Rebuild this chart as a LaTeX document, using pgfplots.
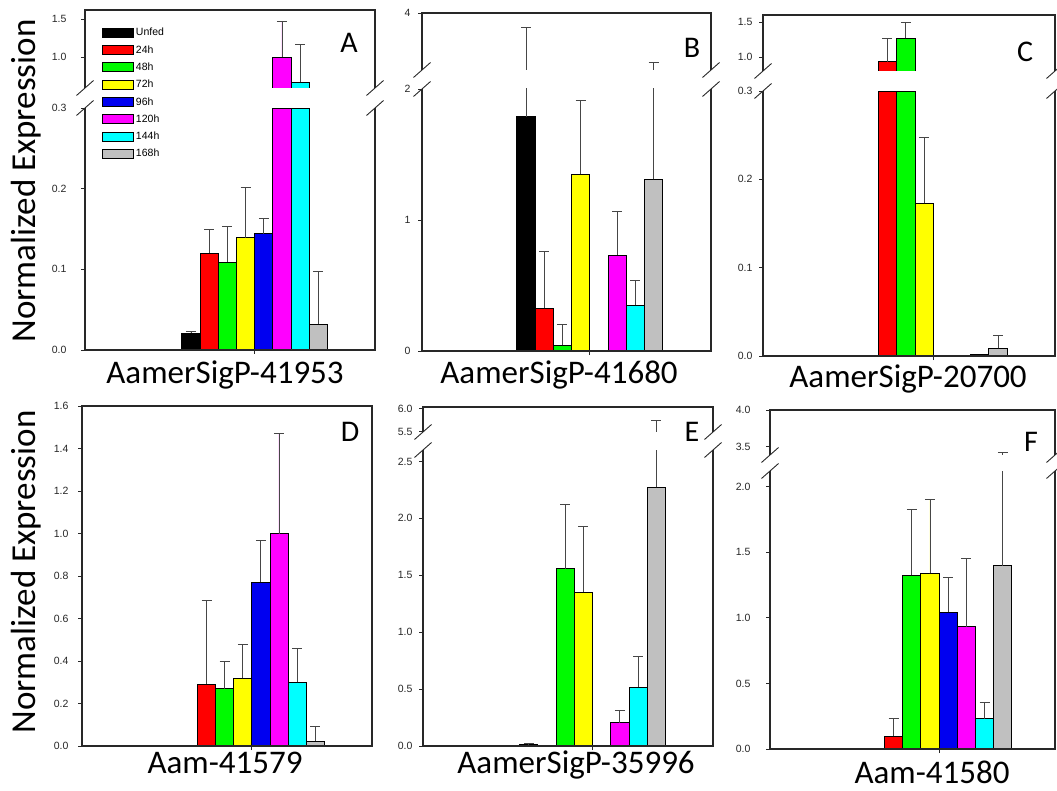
\documentclass[border=0pt]{standalone}
\usepackage{fontspec}
\setmainfont{Carlito}
\newfontfamily\arial{Liberation Sans}
\usepackage{pgfplots}
\pgfplotsset{compat=1.18}
\definecolor{cBlack}{RGB}{0,0,0}
\definecolor{cRed}{RGB}{255,0,0}
\definecolor{cGreen}{RGB}{0,250,0}
\definecolor{cYellow}{RGB}{255,255,0}
\definecolor{cBlue}{RGB}{0,0,240}
\definecolor{cMag}{RGB}{255,0,255}
\definecolor{cCyan}{RGB}{0,255,255}
\definecolor{cGray}{RGB}{192,192,192}
\definecolor{frame}{RGB}{40,40,40}
\definecolor{errc}{RGB}{70,70,70}
\pgfplotsset{
  panel/.style={scale only axis, anchor=south west, axis line style={draw=none}, clip mode=individual,
    tick align=outside, major tick length=4pt, tick style={color=frame, line width=0.9pt},
    ytick pos=left, xtick pos=bottom, xtick={3.5}, xticklabels={},
    yticklabel style={font=\arial\fontsize{10.5}{12}\selectfont, text=black!85, xshift=-#1}},
  upper/.style={xtick=\empty},
  bar/.style={ybar, bar width=1, bar shift=0pt, draw=black, line width=0.8pt, fill=#1},
  ghost/.style={ybar, bar width=1, bar shift=0pt, draw=none, fill=none},
  err/.style={error bars/y dir=plus, error bars/y explicit,
    error bars/error bar style={draw=errc, line width=0.9pt},
    error bars/error mark options={rotate=90, draw=errc, line width=0.9pt, mark size=5pt}},
  lowframe/.style={after end axis/.append code={
    \draw[frame, line width=1.2pt] (rel axis cs:0,1) -- (rel axis cs:0,0) -- (rel axis cs:1,0) -- (rel axis cs:1,1);
    \draw[frame, line width=0.9pt] (rel axis cs:0,1) ++(-8.5pt,-7.5pt) -- ++(17pt,15pt);
    \draw[frame, line width=0.9pt] (rel axis cs:1,1) ++(-8.5pt,-7.5pt) -- ++(17pt,15pt);}},
  upframe/.style={after end axis/.append code={
    \draw[frame, line width=1.2pt] (rel axis cs:0,0) -- (rel axis cs:0,1) -- (rel axis cs:1,1) -- (rel axis cs:1,0);
    \draw[frame, line width=0.9pt] (rel axis cs:0,0) ++(-8.5pt,-7.5pt) -- ++(17pt,15pt);
    \draw[frame, line width=0.9pt] (rel axis cs:1,0) ++(-8.5pt,-7.5pt) -- ++(17pt,15pt);}},
  fullframe/.style={after end axis/.append code={
    \draw[frame, line width=1.2pt] (rel axis cs:0,0) rectangle (rel axis cs:1,1);}},
  shiftup/.style={y coord trafo/.code={\pgfmathparse{##1-#1}}, y coord inv trafo/.code={\pgfmathparse{##1+#1}}},
}
\begin{document}
\begin{tikzpicture}[x=1pt,y=1pt]
\useasboundingbox (0,0) rectangle (1057,-791);

% ---------------- Panel A ----------------
\begin{axis}[panel=11pt, lowframe, at={(85pt,-350pt)}, width=290pt, height=242pt,
  xmin=-5.82, xmax=10.11, ymin=0, ymax=0.3,
  ytick={0,0.1,0.2,0.3}, yticklabels={0.0,0.1,0.2,0.3},
  y filter/.expression={min(y,0.3)},
  legend style={at={(0.0586,1.339)}, anchor=north west, draw=none, fill=none, inner sep=0pt,
    font=\arial\fontsize{10.5}{12}\selectfont, row sep=4.2pt},
  legend cell align=left,
  legend image code/.code={\draw[#1, line width=0.8pt] (0pt,-4.5pt) rectangle (31pt,4.5pt);}]
\addplot[bar=cBlack, err] coordinates {(0,0.021) +- (0,0.002)};
\addplot[bar=cRed, err] coordinates {(1,0.120) +- (0,0.029)};
\addplot[bar=cGreen, err] coordinates {(2,0.109) +- (0,0.044)};
\addplot[bar=cYellow, err] coordinates {(3,0.139) +- (0,0.063)};
\addplot[bar=cBlue, err] coordinates {(4,0.144) +- (0,0.019)};
\addplot[bar=cMag] coordinates {(5,1.0)};
\addplot[bar=cCyan] coordinates {(6,0.67)};
\addplot[bar=cGray, err] coordinates {(7,0.032) +- (0,0.065)};
\legend{Unfed,24h,48h,72h,96h,120h,144h,168h}
\end{axis}
\begin{axis}[panel=11pt, upper, upframe, shiftup=0.592, at={(85pt,-88pt)}, width=290pt, height=78pt,
  xmin=-5.82, xmax=10.11, ymin=0.592, ymax=1.618,
  ytick={1.0,1.5}, yticklabels={1.0,1.5}]
\addplot[bar=cMag, err] coordinates {(5,1.0) +- (0,0.47)};
\addplot[bar=cCyan, err] coordinates {(6,0.67) +- (0,0.50)};
\end{axis}

% ---------------- Panel B ----------------
\begin{axis}[panel=4pt, lowframe, at={(422pt,-351pt)}, width=289pt, height=262pt,
  xmin=-5.70, xmax=10.14, ymin=0, ymax=2,
  ytick={0,1,2}, yticklabels={0,1,2}]
\addplot[bar=cBlack, err] coordinates {(0,1.79) +- (0,1.71)};
\addplot[bar=cRed, err] coordinates {(1,0.326) +- (0,0.432)};
\addplot[bar=cGreen, err] coordinates {(2,0.046) +- (0,0.16)};
\addplot[bar=cYellow, err] coordinates {(3,1.351) +- (0,0.565)};
\addplot[bar=cMag, err] coordinates {(5,0.733) +- (0,0.33)};
\addplot[bar=cCyan, err] coordinates {(6,0.351) +- (0,0.186)};
\addplot[bar=cGray, err] coordinates {(7,1.311) +- (0,0.94)};
\end{axis}
\begin{axis}[panel=4pt, upper, upframe, shiftup=2, at={(422pt,-70pt)}, width=289pt, height=57pt,
  xmin=-5.70, xmax=10.14, ymin=2, ymax=4,
  ytick={4}, yticklabels={4}]
\addplot[ghost, err] coordinates {(0,1.79) +- (0,1.71)};
\addplot[ghost, err] coordinates {(7,1.311) +- (0,0.94)};
\end{axis}

% ---------------- Panel C ----------------
\begin{axis}[panel=3pt, lowframe, at={(763pt,-356pt)}, width=292pt, height=265pt,
  xmin=-5.75, xmax=10.09, ymin=0, ymax=0.3,
  ytick={0,0.1,0.2,0.3}, yticklabels={0.0,0.1,0.2,0.3},
  y filter/.expression={min(y,0.3)}]
\addplot[bar=cRed] coordinates {(1,0.933)};
\addplot[bar=cGreen] coordinates {(2,1.267)};
\addplot[bar=cYellow, err] coordinates {(3,0.173) +- (0,0.074)};
\addplot[bar=cCyan] coordinates {(6,0.0015)};
\addplot[bar=cGray, err] coordinates {(7,0.0087) +- (0,0.014)};
\end{axis}
\begin{axis}[panel=3pt, upper, upframe, shiftup=0.8, at={(763pt,-71pt)}, width=292pt, height=56pt,
  xmin=-5.75, xmax=10.09, ymin=0.8, ymax=1.6,
  ytick={1.0,1.5}, yticklabels={1.0,1.5}]
\addplot[bar=cRed, err] coordinates {(1,0.933) +- (0,0.327)};
\addplot[bar=cGreen, err] coordinates {(2,1.267) +- (0,0.223)};
\end{axis}

% ---------------- Panel D ----------------
\begin{axis}[panel=6pt, fullframe, at={(82pt,-746pt)}, width=290pt, height=340pt,
  xmin=-5.88, xmax=10.14, ymin=0, ymax=1.6,
  ytick={0,0.2,0.4,0.6,0.8,1.0,1.2,1.4,1.6},
  yticklabels={0.0,0.2,0.4,0.6,0.8,1.0,1.2,1.4,1.6}]
\addplot[bar=cRed, err] coordinates {(1,0.291) +- (0,0.394)};
\addplot[bar=cGreen, err] coordinates {(2,0.269) +- (0,0.127)};
\addplot[bar=cYellow, err] coordinates {(3,0.318) +- (0,0.162)};
\addplot[bar=cBlue, err] coordinates {(4,0.772) +- (0,0.194)};
\addplot[bar=cMag, err] coordinates {(5,1.0) +- (0,0.47)};
\addplot[bar=cCyan, err] coordinates {(6,0.30) +- (0,0.159)};
\addplot[bar=cGray, err] coordinates {(7,0.024) +- (0,0.069)};
\end{axis}

% ---------------- Panel E ----------------
\begin{axis}[panel=3pt, lowframe, at={(423pt,-746pt)}, width=290pt, height=296pt,
  xmin=-5.81, xmax=10.12, ymin=0, ymax=2.6,
  ytick={0,0.5,1.0,1.5,2.0,2.5}, yticklabels={0.0,0.5,1.0,1.5,2.0,2.5}]
\addplot[bar=cBlack, err] coordinates {(0,0.014) +- (0,0.006)};
\addplot[bar=cRed] coordinates {(1,0.002)};
\addplot[bar=cGreen, err] coordinates {(2,1.557) +- (0,0.563)};
\addplot[bar=cYellow, err] coordinates {(3,1.352) +- (0,0.577)};
\addplot[bar=cMag, err] coordinates {(5,0.205) +- (0,0.103)};
\addplot[bar=cCyan, err] coordinates {(6,0.519) +- (0,0.266)};
\addplot[bar=cGray, err] coordinates {(7,2.272) +- (0,3.46)};
\end{axis}
\begin{axis}[panel=3pt, upper, upframe, shiftup=5.49, at={(423pt,-432pt)}, width=290pt, height=25pt,
  xmin=-5.81, xmax=10.12, ymin=5.49, ymax=6.03,
  ytick={5.5,6.0}, yticklabels={5.5,6.0}]
\addplot[ghost, err] coordinates {(7,2.272) +- (0,3.46)};
\end{axis}

% ---------------- Panel F ----------------
\begin{axis}[panel=12pt, lowframe, at={(770pt,-749pt)}, width=285pt, height=278pt,
  xmin=-5.79, xmax=9.87, ymin=0, ymax=2.12,
  ytick={0,0.5,1.0,1.5,2.0}, yticklabels={0.0,0.5,1.0,1.5,2.0}]
\addplot[bar=cBlack] coordinates {(0,0.003)};
\addplot[bar=cRed, err] coordinates {(1,0.099) +- (0,0.135)};
\addplot[bar=cGreen, err] coordinates {(2,1.326) +- (0,0.503)};
\addplot[bar=cYellow, err] coordinates {(3,1.339) +- (0,0.566)};
\addplot[bar=cBlue, err] coordinates {(4,1.042) +- (0,0.269)};
\addplot[bar=cMag, err] coordinates {(5,0.932) +- (0,0.521)};
\addplot[bar=cCyan, err] coordinates {(6,0.231) +- (0,0.127)};
\addplot[bar=cGray, err] coordinates {(7,1.397) +- (0,2.03)};
\end{axis}
\begin{axis}[panel=12pt, upper, upframe, shiftup=3.39, at={(770pt,-455pt)}, width=285pt, height=45pt,
  xmin=-5.79, xmax=9.87, ymin=3.39, ymax=4.0,
  ytick={3.5,4.0}, yticklabels={3.5,4.0}]
\addplot[ghost, err] coordinates {(7,1.397) +- (0,2.03)};
\end{axis}

% ---------------- Text ----------------
\node[rotate=90, font=\fontsize{35}{40}\selectfont] at (26,-181) {Normalized Expression};
\node[rotate=90, font=\fontsize{35}{40}\selectfont] at (26,-572) {Normalized Expression};
\node[anchor=base, font=\fontsize{33}{38}\selectfont] at (225,-383) {AamerSigP-41953};
\node[anchor=base, font=\fontsize{33}{38}\selectfont] at (559,-383) {AamerSigP-41680};
\node[anchor=base, font=\fontsize{33}{38}\selectfont] at (908,-387) {AamerSigP-20700};
\node[anchor=base, font=\fontsize{33}{38}\selectfont] at (225,-773) {Aam-41579};
\node[anchor=base, font=\fontsize{33}{38}\selectfont] at (576,-773) {AamerSigP-35996};
\node[anchor=base, font=\fontsize{33}{38}\selectfont] at (932,-783) {Aam-41580};
\node[font=\fontsize{30}{36}\selectfont] at (349,-43) {A};
\node[font=\fontsize{30}{36}\selectfont] at (692,-48) {B};
\node[font=\fontsize{30}{36}\selectfont] at (1025,-52) {C};
\node[font=\fontsize{30}{36}\selectfont] at (350,-432) {D};
\node[font=\fontsize{30}{36}\selectfont] at (692,-432) {E};
\node[font=\fontsize{30}{36}\selectfont] at (1031,-442) {F};
\end{tikzpicture}
\end{document}
